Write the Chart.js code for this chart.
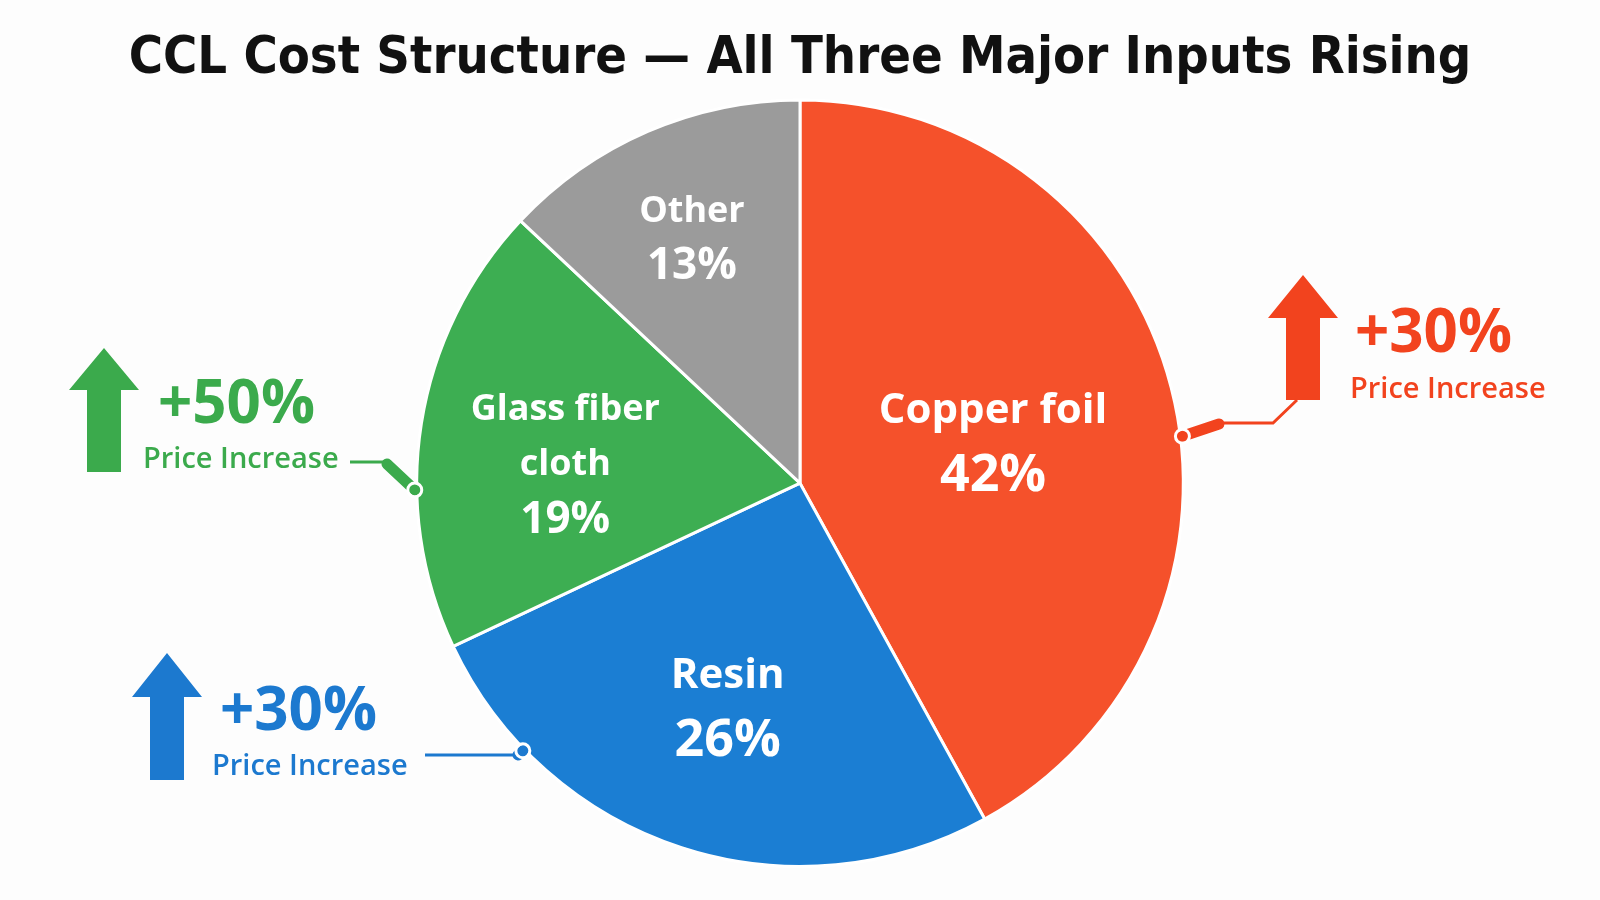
<!DOCTYPE html>
<html>
<head>
<meta charset="utf-8">
<title>CCL Cost Structure</title>
<script src="https://cdn.jsdelivr.net/npm/chart.js@4.4.1/dist/chart.umd.min.js"></script>
<style>
    html, body { margin: 0; padding: 0; background: #fdfdfd; }
    #cost-chart { display: block; }
</style>
</head>
<body>
<canvas id="cost-chart" width="1600" height="900"></canvas>
<script>
// Dữ liệu cơ cấu chi phí CCL
const categories = ['Copper foil', 'Resin', 'Glass fiber cloth', 'Other'];
const labelLines = [['Copper foil'], ['Resin'], ['Glass fiber', 'cloth'], ['Other']];
const shares = [42, 26, 19, 13];
const priceIncreases = [30, 30, 50, null];
const sliceColors = ['#F5512B', '#1B7ED3', '#3DAE52', '#9B9B9B'];
const noteColors = ['#F2431E', '#1C79CF', '#3BAA4C', null];

// vị trí nhãn trong lát bánh (tỉ lệ bán kính, lệch dọc) và cỡ chữ
const labelRadius = [0.52, 0.61, 0.62, 0.71];
const labelShiftY = [10, 3, 19, 6];
const bigLabel = [true, true, false, false];

// chú thích tăng giá (mũi tên + đường nối)
const notes = [
    {
        arrow: { x: 1303, top: 275, base: 318, bottom: 400 },
        pct: { x: 1355, y: 352 }, sub: { x: 1350, y: 398 },
        anchorDeg: 83, pillTo: [1219, 424], path: [[1219, 423], [1273, 423], [1297, 400]]
    },
    {
        arrow: { x: 167, top: 653, base: 697, bottom: 780 },
        pct: { x: 220, y: 730 }, sub: { x: 212, y: 775 },
        anchorDeg: 226, pillTo: [518, 755], path: [[425, 755], [518, 755]]
    },
    {
        arrow: { x: 104, top: 348, base: 390, bottom: 472 },
        pct: { x: 158, y: 423 }, sub: { x: 143, y: 468 },
        anchorDeg: 269, pillTo: [387, 464], path: [[350, 462], [384, 462]]
    }
];

function drawArrow(ctx, a, color) {
    ctx.fillStyle = color;
    ctx.beginPath();
    ctx.moveTo(a.x, a.top);
    ctx.lineTo(a.x + 35, a.base);
    ctx.lineTo(a.x + 17, a.base);
    ctx.lineTo(a.x + 17, a.bottom);
    ctx.lineTo(a.x - 17, a.bottom);
    ctx.lineTo(a.x - 17, a.base);
    ctx.lineTo(a.x - 35, a.base);
    ctx.closePath();
    ctx.fill();
}

const sliceLabels = {
    id: 'sliceLabels',
    afterDatasetsDraw(chart) {
        const ctx = chart.ctx;
        const meta = chart.getDatasetMeta(0);
        ctx.save();
        ctx.fillStyle = '#ffffff';
        ctx.textAlign = 'center';
        ctx.textBaseline = 'middle';
        meta.data.forEach((arc, i) => {
            const mid = (arc.startAngle + arc.endAngle) / 2;
            const r = arc.outerRadius * labelRadius[i];
            const cx = arc.x + Math.cos(mid) * r;
            const cy = arc.y + Math.sin(mid) * r + labelShiftY[i];
            const nameSize = bigLabel[i] ? 42 : 36;
            const pctSize = bigLabel[i] ? 52 : 44;
            const gap = bigLabel[i] ? 66 : 55;
            const lines = labelLines[i].concat([shares[i] + '%']);
            const y0 = cy - gap * (lines.length - 1) / 2;
            lines.forEach((t, k) => {
                const isPct = k === lines.length - 1;
                ctx.font = 'bold ' + (isPct ? pctSize : nameSize) + 'px "Open Sans", "Noto Sans", sans-serif';
                ctx.fillText(t, cx, y0 + gap * k);
            });
        });
        ctx.restore();
    }
};

const priceNotes = {
    id: 'priceNotes',
    afterDatasetsDraw(chart) {
        const ctx = chart.ctx;
        const arc = chart.getDatasetMeta(0).data[0];
        ctx.save();
        notes.forEach((n, i) => {
            const color = noteColors[i];
            drawArrow(ctx, n.arrow, color);

            ctx.fillStyle = color;
            ctx.textAlign = 'left';
            ctx.textBaseline = 'alphabetic';
            ctx.font = 'bold 60px "Open Sans", "Noto Sans", sans-serif';
            ctx.fillText('+' + priceIncreases[i] + '%', n.pct.x, n.pct.y);
            ctx.font = '600 29px "Open Sans", "Noto Sans", sans-serif';
            ctx.fillText('Price Increase', n.sub.x, n.sub.y);

            // đường nối
            ctx.strokeStyle = color;
            ctx.lineWidth = 3;
            ctx.beginPath();
            n.path.forEach((p, k) => k ? ctx.lineTo(p[0], p[1]) : ctx.moveTo(p[0], p[1]));
            ctx.stroke();

            const ang = (n.anchorDeg - 90) * Math.PI / 180;
            const ex = arc.x + Math.cos(ang) * (arc.outerRadius + 2);
            const ey = arc.y + Math.sin(ang) * (arc.outerRadius + 2);
            ctx.lineCap = 'round';
            ctx.lineWidth = 11;
            ctx.beginPath();
            ctx.moveTo(n.pillTo[0], n.pillTo[1]);
            ctx.lineTo(ex, ey);
            ctx.stroke();
            ctx.strokeStyle = '#ffffff';
            ctx.lineWidth = 3;
            ctx.beginPath();
            ctx.arc(ex, ey, 7, 0, Math.PI * 2);
            ctx.stroke();
            ctx.lineCap = 'butt';
        });
        ctx.restore();
    }
};

main();

function main() {
    costStructure();
}

// Biểu đồ cơ cấu chi phí
function costStructure() {
    const ctx = document.getElementById('cost-chart');
    new Chart(ctx, {
        type: 'pie',
        data: {
            labels: categories,
            datasets: [
                {
                    label: 'Cost share',
                    data: shares,
                    backgroundColor: sliceColors,
                    borderColor: '#ffffff',
                    borderWidth: 3,
                }
            ]
        },
        options: {
            responsive: false,
            animation: false,
            layout: {
                padding: { top: 0, bottom: 32, left: 0, right: 0 }
            },
            plugins: {
                legend: { display: false },
                tooltip: { enabled: false },
                title: {
                    display: true,
                    text: 'CCL Cost Structure \u2014 All Three Major Inputs Rising',
                    color: '#111111',
                    font: { family: '"DejaVu Sans Condensed", "DejaVu Sans", sans-serif', size: 52, weight: 'bold', lineHeight: 1.2 },
                    padding: { top: 28, bottom: 8 }
                }
            }
        },
        plugins: [sliceLabels, priceNotes]
    });
}
</script>
</body>
</html>
